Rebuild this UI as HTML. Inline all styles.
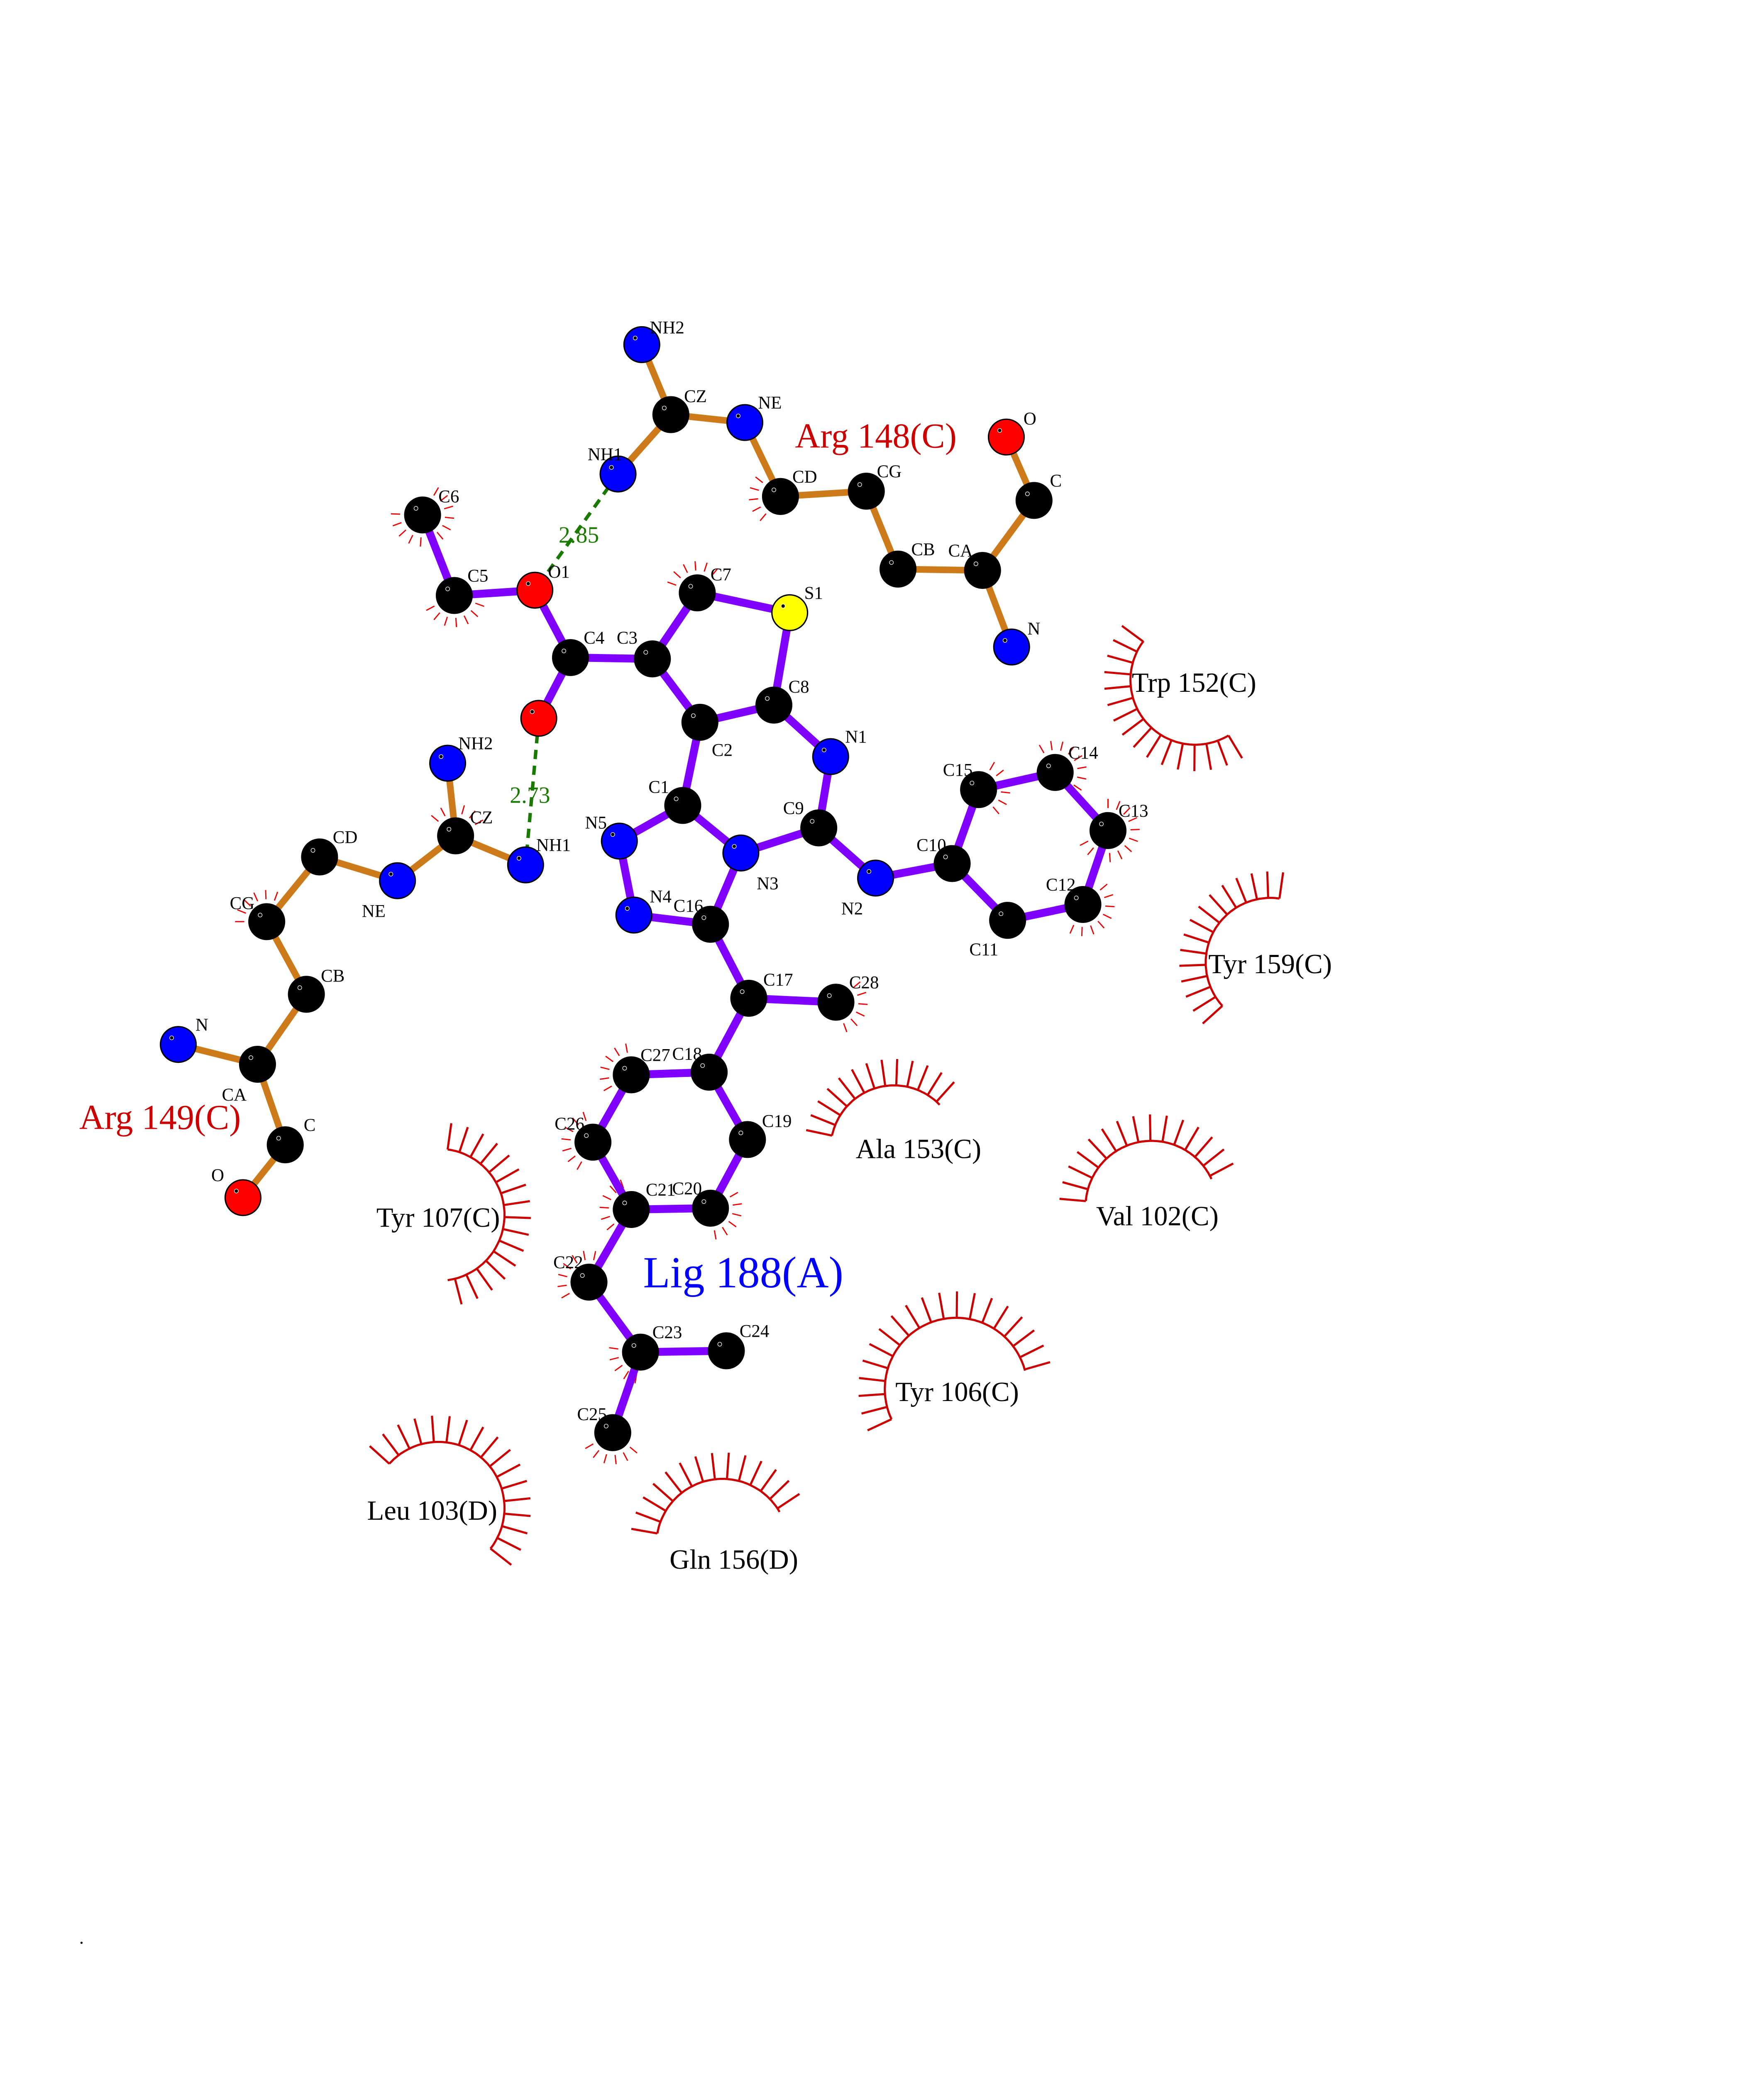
<!DOCTYPE html>
<html><head><meta charset="utf-8">
<style>html,body{margin:0;padding:0;background:#fff;overflow:hidden}body{width:77.2727vh;height:100vh}svg{display:block;position:absolute;left:0;top:0;width:77.2727vh;height:100vh}</style>
</head><body>
<svg id="s" xmlns="http://www.w3.org/2000/svg" viewBox="0 0 1224 1584" preserveAspectRatio="none" font-family="'Liberation Serif',serif">
<g id="g" transform="translate(2,2) scale(1.008)"></g>
</svg>
<script>
var NS="http://www.w3.org/2000/svg",g=document.getElementById("g");
function el(t,a,txt){var e=document.createElementNS(NS,t);for(var k in a)e.setAttribute(k,a[k]);if(txt!==undefined)e.textContent=txt;g.appendChild(e);return e;}
var A={
C6:[318,388],C5:[342,449],O1:[403,445],C4:[430,496],O2:[406,542],C3:[492,497],C7:[526,447],S1:[596,462],C8:[584,532],C2:[528,545],N1:[627,571],C1:[515,608],C9:[618,625],N5:[467,635],N3:[559,644],N4:[478,691],C16:[536,698],N2:[661,663],C10:[719,652],C15:[739,596],C14:[797,583],C13:[837,627],C12:[818,683],C11:[761,695],C17:[565,754],C28:[631,757],C18:[535,810],C27:[476,812],C26:[447,863],C21:[476,914],C20:[536,913],C19:[564,861],C22:[444,969],C23:[483,1022],C24:[548,1021],C25:[462,1083],
aNH2:[484,259],aCZ:[506,312],aNE:[562,318],aNH1:[466,357],aCD:[589,374],aCG:[654,370],aCB:[678,429],aCA:[742,430],aC:[781,377],aO:[760,329],aN:[764,488],
bNH2:[337,576],bCZ:[343,631],bNH1:[396,653],bNE:[299,665],bCD:[240,647],bCG:[200,696],bCB:[230,751],bCA:[193,804],bN:[133,789],bC:[214,865],bO:[182,905]};
var col={O1:"#f00",O2:"#f00",S1:"#ff0",N1:"#00f",N5:"#00f",N3:"#00f",N4:"#00f",N2:"#00f",aNH2:"#00f",aNE:"#00f",aNH1:"#00f",aN:"#00f",aO:"#f00",bNH2:"#00f",bNH1:"#00f",bNE:"#00f",bN:"#00f",bO:"#f00"};
var lig="C6-C5 C5-O1 O1-C4 C4-O2 C4-C3 C3-C7 C7-S1 S1-C8 C8-C2 C2-C3 C8-N1 C2-C1 N1-C9 C9-N3 C1-N3 C1-N5 N5-N4 N4-C16 C16-N3 C9-N2 N2-C10 C10-C15 C15-C14 C14-C13 C13-C12 C12-C11 C11-C10 C16-C17 C17-C28 C17-C18 C18-C27 C27-C26 C26-C21 C21-C20 C20-C19 C19-C18 C21-C22 C22-C23 C23-C24 C23-C25".split(" ");
var res="aNH2-aCZ aCZ-aNE aCZ-aNH1 aNE-aCD aCD-aCG aCG-aCB aCB-aCA aCA-aC aC-aO aCA-aN bNH2-bCZ bCZ-bNH1 bCZ-bNE bNE-bCD bCD-bCG bCG-bCB bCB-bCA bCA-bN bCA-bC bC-bO".split(" ");
function line(p,q,c,w,extra){var a={x1:p[0],y1:p[1],x2:q[0],y2:q[1],stroke:c,"stroke-width":w};for(var k in extra)a[k]=extra[k];el("line",a);}
function halo(n,a0,a1,step){var p=A[n];for(var a=a0;a<=a1+0.01;a+=step){var r=a*Math.PI/180;line([p[0]+17*Math.cos(r),p[1]+17*Math.sin(r)],[p[0]+24*Math.cos(r),p[1]+24*Math.sin(r)],"#e00",0.9);}}
halo("C6",-60,190,22);halo("C5",20,170,22);halo("C7",200,320,22);halo("aCD",130,250,22);halo("bCG",180,300,22);halo("bCZ",220,330,22);
halo("C15",-60,60,22);halo("C14",-120,40,22);halo("C13",-90,170,22);halo("C12",-40,130,22);halo("C28",-40,90,22);
halo("C27",150,270,22);halo("C26",120,260,22);halo("C21",140,260,22);halo("C20",-30,90,22);halo("C22",150,300,22);halo("C23",100,200,22);halo("C25",40,160,22);
function arc(cx,cy,r,a0,a1,step){var d="";for(var a=a0;a<=a1+0.01;a+=2){var t=a*Math.PI/180;d+=(d?"L":"M")+(cx+r*Math.cos(t)).toFixed(1)+","+(cy+r*Math.sin(t)).toFixed(1);}
el("path",{d:d,fill:"none",stroke:"#c00","stroke-width":1.6});
for(var a=a0;a<=a1+0.01;a+=step){var t=a*Math.PI/180;line([cx+r*Math.cos(t),cy+r*Math.sin(t)],[cx+(r+20)*Math.cos(t),cy+(r+20)*Math.sin(t)],"#c00",1.6);}}
arc(903,513,49,59,217,10.5);
arc(960,727,49,138,279,10);
arc(675,868,48,192,316,10);
arc(870,912,50,185,335,10.5);
arc(722,1050,54,155,345,10.5);
arc(330,918,50,-82,82,10.5);
arc(330,1140,50,222,399,11);
arc(545,1168,50,190,330,10.5);
res.forEach(function(b){var s=b.split("-");line(A[s[0]],A[s[1]],"#cc7a1a",5);});
lig.forEach(function(b){var s=b.split("-");line(A[s[0]],A[s[1]],"#8000ff",6);});
line(A.aNH1,A.O1,"#1a7a00",2.6,{"stroke-dasharray":"7,5"});
line(A.O2,A.bNH1,"#1a7a00",2.6,{"stroke-dasharray":"7,5"});
el("text",{x:421,y:409,"font-size":17.5,fill:"#1a7a00"},"2.85");
el("text",{x:384,y:606,"font-size":17.5,fill:"#1a7a00"},"2.73");
for(var n in A){var p=A[n],c=col[n]||"#000";el("circle",{cx:p[0],cy:p[1],r:13.5,fill:c,stroke:"#000","stroke-width":1});
el("circle",{cx:p[0]-5,cy:p[1]-5,r:1.5,fill:"#000",stroke:"#fff","stroke-width":0.4});}
var L=[["NH2",490,246],["CZ",516,298],["NE",572,303],["NH1",443,342],["CD",598,359],["CG",662,355],["CB",688,414],["CA",716,415],["C",793,362],["O",773,315],["N",776,474],
["C6",330,374],["C5",352,434],["O1",413,431],["C4",440,481],["C3",465,481],["C7",536,433],["S1",607,447],["C8",595,518],["C2",537,566],["N1",638,556],["C1",489,594],["C9",591,610],["N5",441,621],["N3",571,667],["N4",490,677],["C16",508,684],["N2",635,686],["C10",692,638],["C15",712,581],["C14",807,568],["C13",845,612],["C12",790,668],["C11",732,717],["C17",576,740],["C28",641,742],["C18",507,796],["C27",483,797],["C26",418,849],["C19",575,847],["C21",487,899],["C20",507,898],["C22",417,954],["C23",492,1007],["C24",558,1006],["C25",435,1069],
["NH2",345,561],["CZ",354,617],["NH1",404,638],["NE",272,688],["CD",250,632],["CG",172,682],["CB",241,737],["CA",166,827],["N",146,774],["C",228,850],["O",158,888]];
L.forEach(function(l){el("text",{x:l[1],y:l[2]+4.5,"font-size":13.5,fill:"#000"},l[0]);});
el("text",{x:600,y:337,"font-size":26.5,fill:"#c00"},"Arg 148(C)");
el("text",{x:58,y:853,"font-size":26.5,fill:"#c00"},"Arg 149(C)");
el("text",{x:485,y:973,"font-size":33.5,fill:"#00f"},"Lig 188(A)");
var R=[["Trp 152(C)",855,522],["Tyr 159(C)",913,735],["Ala 153(C)",646,875],["Val 102(C)",828,926],["Tyr 106(C)",676,1059],["Tyr 107(C)",283,927],["Leu 103(D)",276,1149],["Gln 156(D)",505,1186]];
R.forEach(function(l){el("text",{x:l[1],y:l[2],"font-size":21,fill:"#000"},l[0]);});
el("text",{x:58,y:1470,"font-size":14,fill:"#000"},".");
</script>
</body></html>
